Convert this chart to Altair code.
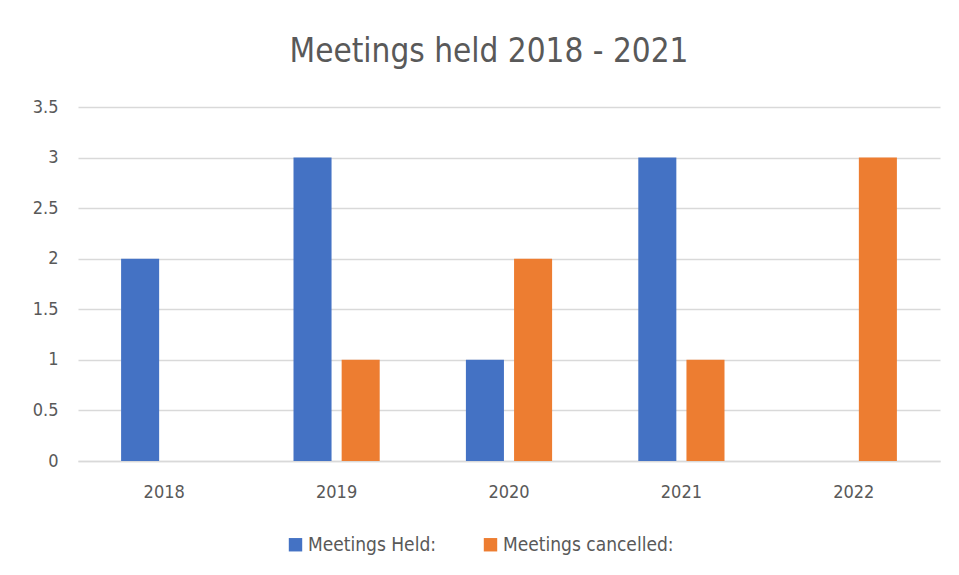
import altair as alt
import pandas as pd

years = ["2018", "2019", "2020", "2021", "2022"]
held = [2, 3, 1, 3, 0]
cancelled = [0, 1, 2, 1, 3]
series = ["Meetings Held:", "Meetings cancelled:"]
colors = ["#4472C4", "#ED7D31"]

rows = []
for i, y in enumerate(years):
    rows.append({"year": y, "series": series[0], "value": held[i]})
    rows.append({"year": y, "series": series[1], "value": cancelled[i]})
df = pd.DataFrame(rows)

FONT = "DejaVu Sans Condensed, Open Sans, sans-serif"

chart = alt.Chart(df).mark_bar().encode(
    x=alt.X("year:N", sort=years, title=None,
            scale=alt.Scale(paddingInner=0.5, paddingOuter=0.25),
            axis=alt.Axis(labelAngle=0, ticks=False, domain=True, domainColor="#d9d9d9",
                          domainWidth=1.5, labelPadding=22, labelFontSize=18,
                          labelColor="#595959", labelFont=FONT)),
    xOffset=alt.XOffset("series:N", sort=series, scale=alt.Scale(paddingInner=0.21, paddingOuter=0)),
    y=alt.Y("value:Q", title=None,
            scale=alt.Scale(domain=[0, 3.5], nice=False),
            axis=alt.Axis(values=[0, 0.5, 1, 1.5, 2, 2.5, 3, 3.5], format="~g", ticks=False,
                          domain=False, gridColor="#d9d9d9", gridWidth=1.5, labelPadding=20,
                          labelFontSize=18, labelColor="#595959", labelFont=FONT)),
    color=alt.Color("series:N", sort=series,
                    scale=alt.Scale(domain=series, range=colors),
                    legend=alt.Legend(title=None, orient="none", direction="horizontal",
                                      legendX=208, legendY=428, symbolType="square",
                                      symbolSize=180, symbolStrokeWidth=0, labelFontSize=19,
                                      labelColor="#595959", labelFont=FONT, columnPadding=44,
                                      labelOffset=3, labelLimit=0)),
).properties(
    width=862, height=354,
    title=alt.TitleParams("Meetings held 2018 - 2021", fontSize=33, color="#595959",
                          font=FONT, fontWeight="normal", anchor="middle", offset=29, dx=-20),
    autosize=alt.AutoSizeParams(type="none"),
    padding={"left": 70, "top": 99, "right": 10, "bottom": 100},
).configure_view(stroke=None)

chart.save("out.html", embed_options={"renderer": "svg", "actions": False})
